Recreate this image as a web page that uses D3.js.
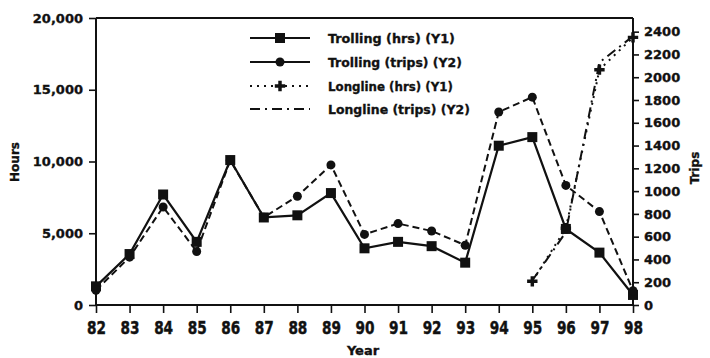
<!DOCTYPE html>
<html>
<head>
<meta charset="utf-8">
<script src="https://cdn.jsdelivr.net/npm/d3@7"></script>
<style>
  html, body { margin: 0; padding: 0; background: #fff; }
  svg { display: block; }
  text { font-family: "DejaVu Sans", "Liberation Sans", Arial, sans-serif; font-weight: bold; fill: #111; stroke: #111; stroke-width: 0.35px; }
</style>
</head>
<body>
<svg id="chart" width="710" height="358"></svg>
<script>
// Fishing effort by year: hours on the left axis (Y1), trips on the right axis (Y2)
const years = ["82","83","84","85","86","87","88","89","90","91","92","93","94","95","96","97","98"];
const trollingHours = [1300, 3550, 7700, 4400, 10100, 6100, 6250, 7800, 3950, 4400, 4100, 2950, 11100, 11700, 5300, 3650, 700];
const trollingTrips = [130, 420, 860, 470, 1270, 770, 955, 1230, 620, 715, 650, 525, 1695, 1825, 1050, 820, 125];
const longlineYears = ["95","96","97","98"];
const longlineHours = [1650, 5350, 16400, 18650];
const longlineTrips = [215, 640, 2130, 2360];
const hourTicks = [0, 5000, 10000, 15000, 20000];
const tripTicks = [0, 200, 400, 600, 800, 1000, 1200, 1400, 1600, 1800, 2000, 2200, 2400];
const legendLabels = ["Trolling (hrs) (Y1)", "Trolling (trips) (Y2)", "Longline (hrs) (Y1)", "Longline (trips) (Y2)"];

const svg = d3.select("#chart");
const L = 96, R = 633, T = 18, B = 305;

const x = d3.scalePoint().domain(years).range([L, R]);
const yH = d3.scaleLinear().domain([0, 20000]).range([B, T]);
const yT = d3.scaleLinear().domain([0, 2520]).range([B, T]);

// frame
svg.append("line").attr("x1", L).attr("x2", R).attr("y1", T).attr("y2", T)
  .attr("stroke", "#111").attr("stroke-width", 2);

// left axis
const axL = svg.append("g").attr("transform", `translate(${L},0)`)
  .call(d3.axisLeft(yH).tickValues(hourTicks).tickSize(7).tickPadding(6).tickFormat(d3.format(",")));
// right axis
const axR = svg.append("g").attr("transform", `translate(${R},0)`)
  .call(d3.axisRight(yT).tickValues(tripTicks).tickSize(6).tickPadding(5).tickFormat(d => d));
// bottom axis
const axB = svg.append("g").attr("transform", `translate(0,${B})`)
  .call(d3.axisBottom(x).tickSize(8).tickPadding(0));

[axL, axR, axB].forEach(g => {
  g.select(".domain").attr("stroke", "#111").attr("stroke-width", 2);
  g.selectAll(".tick line").attr("stroke", "#111").attr("stroke-width", 1.6);
  g.selectAll("text").attr("font-size", 13).attr("font-family", "DejaVu Sans, sans-serif")
    .attr("font-weight", "bold").attr("fill", "#111");
});
axL.select(".domain").attr("d", `M0,${B}V${T}`);
axR.select(".domain").attr("d", `M0,${B}V${T}`);
axB.select(".domain").attr("d", `M${L},0H${R}`);
axB.selectAll(".tick text").attr("dy", 0).attr("y", 0)
  .attr("transform", "translate(0,29) scale(1.05,1.3)");

// axis titles
svg.append("text").attr("transform", "translate(19,162) rotate(-90)")
  .attr("text-anchor", "middle").attr("font-size", 12).text("Hours");
svg.append("text").attr("transform", "translate(699,168) rotate(-90)")
  .attr("text-anchor", "middle").attr("font-size", 12).text("Trips");
svg.append("text").attr("x", 363).attr("y", 355)
  .attr("text-anchor", "middle").attr("font-size", 13).text("Year");

// series
const lineH = d3.line().x(d => x(d.k)).y(d => yH(d.v));
const lineT = d3.line().x(d => x(d.k)).y(d => yT(d.v));
const zip = (keys, vals) => keys.map((k, i) => ({ k, v: vals[i] }));

const tH = zip(years, trollingHours);
const tT = zip(years, trollingTrips);
const lH = zip(longlineYears, longlineHours);
const lT = zip(longlineYears, longlineTrips);

svg.append("path").attr("d", lineT(tT)).attr("fill", "none").attr("stroke", "#111")
  .attr("stroke-width", 2).attr("stroke-dasharray", "7,4");
svg.append("path").attr("d", lineH(tH)).attr("fill", "none").attr("stroke", "#111")
  .attr("stroke-width", 2.2);
svg.append("path").attr("d", lineH(lH)).attr("fill", "none").attr("stroke", "#111")
  .attr("stroke-width", 2).attr("stroke-dasharray", "2,5");
svg.append("path").attr("d", lineT(lT)).attr("fill", "none").attr("stroke", "#111")
  .attr("stroke-width", 2).attr("stroke-dasharray", "10,5,2,5");

// markers
const sq = 10;
svg.append("g").selectAll("rect").data(tH).join("rect")
  .attr("x", d => x(d.k) - sq / 2).attr("y", d => yH(d.v) - sq / 2)
  .attr("width", sq).attr("height", sq).attr("fill", "#111");
svg.append("g").selectAll("circle").data(tT).join("circle")
  .attr("cx", d => x(d.k)).attr("cy", d => yT(d.v)).attr("r", 4.5).attr("fill", "#111");
const plus = d3.symbol().type(d3.symbolCross).size(60);
svg.append("g").selectAll("path").data(lH).join("path")
  .attr("transform", d => `translate(${x(d.k)},${yH(d.v)})`).attr("d", plus).attr("fill", "#111");

// legend: labels are stretched horizontally to a set width
const lg = svg.append("g");
const rowsY = [38, 62, 86, 109];
const labelWidths = [127, 134, 125, 142];
legendLabels.forEach((label, i) => {
  const y = rowsY[i];
  const ln = lg.append("line").attr("x1", 250).attr("x2", 310).attr("y1", y).attr("y2", y)
    .attr("stroke", "#111").attr("stroke-width", 2);
  if (i === 2) ln.attr("stroke-dasharray", "2,5");
  if (i === 3) ln.attr("stroke-dasharray", "10,5,2,5");
  if (i === 0) lg.append("rect").attr("x", 275).attr("y", y - 5).attr("width", 10).attr("height", 10).attr("fill", "#111");
  if (i === 1) lg.append("circle").attr("cx", 280).attr("cy", y).attr("r", 4.5).attr("fill", "#111");
  if (i === 2) lg.append("path").attr("transform", `translate(280,${y})`).attr("d", plus).attr("fill", "#111");
  const t = lg.append("text").attr("x", 0).attr("y", 0).attr("font-size", 13).text(label);
  const w = t.node().getComputedTextLength();
  t.attr("transform", `translate(328,${y + 5}) scale(${labelWidths[i] / w},1)`);
});
</script>
</body>
</html>
